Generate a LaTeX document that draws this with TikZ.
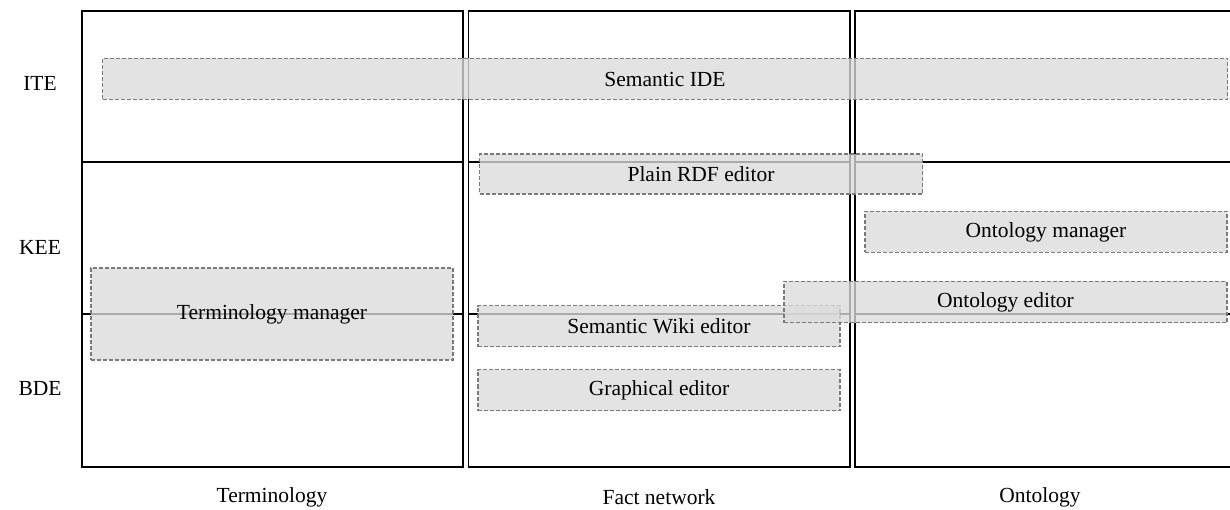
\documentclass[tikz,border=0pt]{standalone}
\usepackage{fontspec}
\setmainfont{Liberation Serif}
\begin{document}
\begin{tikzpicture}[x=1pt,y=-1pt,
  every node/.style={font=\fontsize{21.5}{24}\selectfont},
  frame/.style={draw=black,line width=1.4pt},
  tool/.style={draw=black!52,line width=1.3pt,dash pattern=on 4pt off 2pt,
    fill=black!14,fill opacity=0.78,text opacity=1,
    inner sep=0pt,outer sep=0pt,anchor=north west},
  lbl/.style={inner sep=0pt}]
\useasboundingbox (0,0) rectangle (1230,510);

% three column frames, each split into the three layers
\foreach \l/\r in {82/463, 468.5/850, 855/1240}{
  \draw[frame] (\l,11) rectangle (\r,467);
  \draw[frame] (\l,162) -- (\r,162);
  \draw[frame] (\l,314) -- (\r,314);
}

% layer labels
\node[lbl] (ite) at (40,83)  {ITE};
\node[lbl] (kee) at (40,247) {KEE};
\node[lbl] (bde) at (40,388) {BDE};

% column labels
\node[lbl] (term) at (272,497)  {Terminology};
\node[lbl] (fact) at (659,497)  {Fact network};
\node[lbl] (onto) at (1040,497) {Ontology};

% tool boxes
\node[tool,minimum width=1125pt,minimum height=41pt] (ide)  at (102.5,58.5) {Semantic IDE};
\node[tool,minimum width=443pt,minimum height=40pt]  (rdf)  at (479.5,154)  {Plain RDF editor};
\node[tool,minimum width=362pt,minimum height=41pt]  (omgr) at (865,211.5)  {Ontology manager};
\node[tool,minimum width=362pt,minimum height=92pt]  (tmgr) at (91,268)     {Terminology manager};
\node[tool,minimum width=362pt,minimum height=41pt]  (wiki) at (478,305.5)  {Semantic Wiki editor};
\node[tool,minimum width=443pt,minimum height=41pt]  (oed)  at (784,281.5)  {Ontology editor};
\node[tool,minimum width=362pt,minimum height=41pt]  (gr)   at (478,369.5)  {Graphical editor};
\end{tikzpicture}
\end{document}
